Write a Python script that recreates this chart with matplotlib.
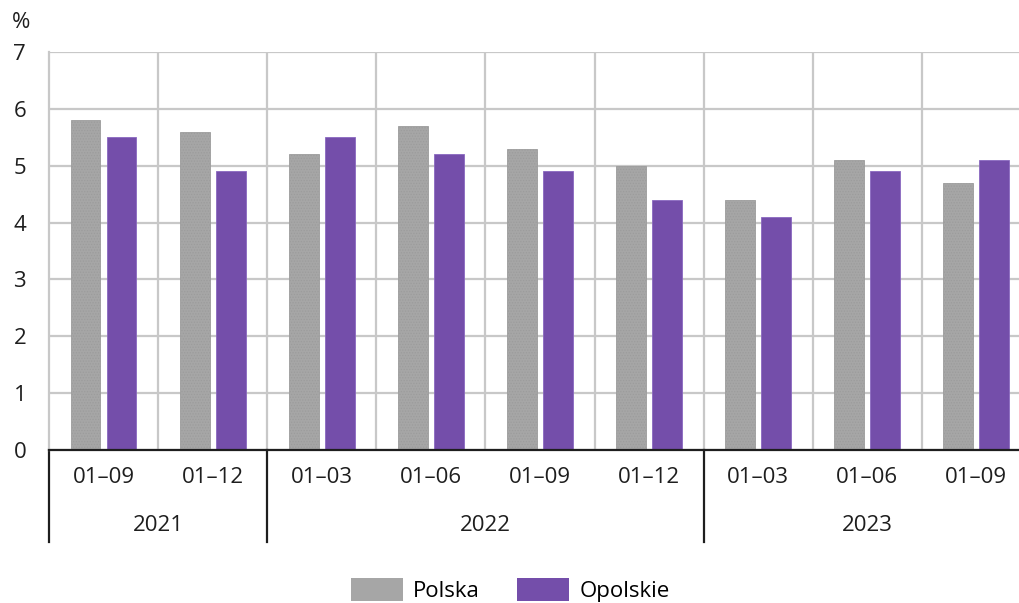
import matplotlib
matplotlib.use("Agg")
import matplotlib.pyplot as plt
import matplotlib.transforms as mtransforms
import numpy as np

plt.rcParams['font.family'] = ['Open Sans', 'DejaVu Sans']
plt.rcParams['hatch.linewidth'] = 0.6

periods = ["01–09", "01–12", "01–03", "01–06", "01–09", "01–12",
           "01–03", "01–06", "01–09"]
years = ["2021", "2022", "2023"]
year_spans = [(0, 1), (2, 5), (6, 8)]
polska = [5.8, 5.6, 5.2, 5.7, 5.3, 5.0, 4.4, 5.1, 4.7]
opolskie = [5.5, 4.9, 5.5, 5.2, 4.9, 4.4, 4.1, 4.9, 5.1]

GRAY = "#A6A6A6"
PURPLE = "#744EAA"
GRID = "#C8C8C8"
TXT = "#1E1E1E"
FS = 16

fig = plt.figure(figsize=(10.20, 6.03), dpi=100)
ax = fig.add_axes([49 / 1020, 1 - 450 / 603, 1 - 49 / 1020, 398 / 603])

x = np.arange(len(periods))
w = 0.274
off = 0.165
ax.bar(x - off, polska, w, color=GRAY, edgecolor="#9C9C9C", lw=0.6,
       hatch="......", label="Polska", zorder=3)
ax.bar(x + off, opolskie, w, color=PURPLE, edgecolor="#8A68C0", lw=0.6,
       label="Opolskie", zorder=3)

ax.set_ylim(0, 7)
ax.set_xlim(-0.5, 8.4)
ax.set_yticks(range(8))
ax.set_xticks(x)
ax.set_xticklabels([])
ax.set_xticks(np.arange(0.5, 8.5, 1), minor=True)
ax.tick_params(axis="x", which="both", length=0)
ax.tick_params(axis="y", length=0, labelsize=FS, pad=21, colors=TXT)
for lab in ax.get_yticklabels():
    lab.set_horizontalalignment("center")

ax.yaxis.grid(True, color=GRID, lw=1.6, zorder=0)
ax.xaxis.grid(True, which="minor", color=GRID, lw=1.6, zorder=0)
for s in ["top", "right"]:
    ax.spines[s].set_visible(False)
ax.spines["left"].set_color(GRID)
ax.spines["left"].set_linewidth(1.6)
ax.spines["bottom"].set_color(TXT)
ax.spines["bottom"].set_linewidth(1.6)
ax.spines["bottom"].set_zorder(4)

fig.text(12 / 1020, 1 - 22 / 603, "%", ha="left", va="center",
         fontsize=FS, color=TXT)

trans = mtransforms.blended_transform_factory(ax.transData, ax.transAxes)
for i, p in enumerate(periods):
    ax.text(i, -0.07, p, transform=trans, ha="center", va="center",
            fontsize=FS, color=TXT)
for yr, (a, b) in zip(years, year_spans):
    ax.text((a + b) / 2, -0.19, yr, transform=trans, ha="center",
            va="center", fontsize=FS, color=TXT)
for sep in [-0.5, 1.5, 5.5]:
    ax.plot([sep, sep], [0, -0.231], transform=trans, color=TXT,
            lw=1.6, clip_on=False)

fig.legend(loc="center", bbox_to_anchor=(0.5, 1 - 590 / 603), ncol=2,
           frameon=False, fontsize=FS, handlelength=2.34, handleheight=1.2,
           handletextpad=0.45, columnspacing=1.7)
# legend patches solid, without dots
for h in fig.legends[0].get_patches():
    h.set_hatch(None)
    h.set_edgecolor("none")

fig.savefig("out.png", dpi=100)
